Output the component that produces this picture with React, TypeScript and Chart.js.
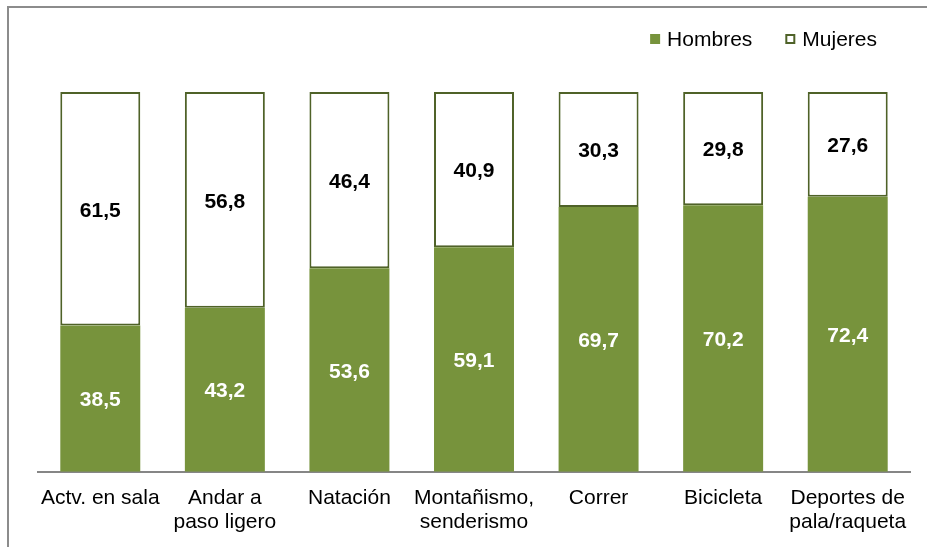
import React, { useEffect, useRef } from "react";
import { Chart, registerables } from "chart.js";

Chart.register(...registerables);

const categories: string[][] = [
  ["Actv. en sala"],
  ["Andar a", "paso ligero"],
  ["Natación"],
  ["Montañismo,", "senderismo"],
  ["Correr"],
  ["Bicicleta"],
  ["Deportes de", "pala/raqueta"],
];
const hombres: number[] = [38.5, 43.2, 53.6, 59.1, 69.7, 70.2, 72.4];
const mujeres: number[] = [61.5, 56.8, 46.4, 40.9, 30.3, 29.8, 27.6];

const FONT = "Arial, 'Liberation Sans', sans-serif";
const GREEN = "#77933C";
const DARK_GREEN = "#4F6228";

const labelPlugin = {
  id: "barLabels",
  afterDatasetsDraw(chart: any) {
    const ctx = chart.ctx;
    ctx.save();
    ctx.font = `bold 21px ${FONT}`;
    ctx.textAlign = "center";
    ctx.textBaseline = "middle";
    chart.data.datasets.forEach((ds: any, di: number) => {
      const meta = chart.getDatasetMeta(di);
      meta.data.forEach((bar: any, i: number) => {
        const v = ds.data[i] as number;
        const y = (bar.y + bar.base) / 2;
        ctx.fillStyle = di === 0 ? "#FFFFFF" : "#000000";
        ctx.fillText(v.toFixed(1).replace(".", ","), bar.x, y + 2);
      });
    });
    ctx.restore();
  },
};

const legendPlugin = {
  id: "customLegend",
  afterDraw(chart: any) {
    const ctx = chart.ctx;
    ctx.save();
    ctx.font = `21px ${FONT}`;
    ctx.textBaseline = "middle";
    ctx.textAlign = "left";
    const box = 10;
    const boxGap = 7;
    const itemGap = 33;
    const cy = 39;
    const items = chart.data.datasets.map((ds: any) => ({
      text: ds.label as string,
      fill: ds.backgroundColor as string,
      stroke: ds.borderColor as string,
      bw: ds.borderWidth as number,
      w: ctx.measureText(ds.label).width,
    }));
    const total = items.reduce((s: number, it: any) => s + box + boxGap + it.w, 0) + itemGap * (items.length - 1);
    let x = chart.chartArea.right - 33 - total;
    items.forEach((it: any) => {
      ctx.fillStyle = it.fill;
      ctx.fillRect(x, cy - box / 2, box, box);
      if (it.bw > 0) {
        ctx.strokeStyle = it.stroke;
        ctx.lineWidth = it.bw;
        ctx.strokeRect(x + it.bw / 2, cy - box / 2 + it.bw / 2, box - it.bw, box - it.bw);
      }
      ctx.fillStyle = "#000";
      ctx.fillText(it.text, x + box + boxGap, cy + 1);
      x += box + boxGap + it.w + itemGap;
    });
    ctx.restore();
  },
};

export default function App() {
  const ref = useRef<HTMLCanvasElement | null>(null);
  useEffect(() => {
    if (!ref.current) return;
    const chart = new Chart(ref.current, {
      type: "bar",
      data: {
        labels: categories,
        datasets: [
          {
            label: "Hombres",
            data: hombres,
            backgroundColor: GREEN,
            borderColor: GREEN,
            borderWidth: 0,
            categoryPercentage: 1,
            barPercentage: 0.642,
          },
          {
            label: "Mujeres",
            data: mujeres,
            backgroundColor: "#FFFFFF",
            borderColor: DARK_GREEN,
            borderWidth: 2,
            borderSkipped: false,
            categoryPercentage: 1,
            barPercentage: 0.642,
          },
        ],
      },
      options: {
        responsive: false,
        animation: false,
        devicePixelRatio: 1,
        layout: { padding: { left: 38, right: 17, top: 92, bottom: -1 } },
        plugins: {
          legend: { display: false },
          tooltip: { enabled: false },
        },
        scales: {
          x: {
            stacked: true,
            grid: { display: false, drawTicks: false },
            border: { display: true, color: "#868686", width: 2 },
            ticks: {
              color: "#000",
              font: { family: FONT, size: 21, lineHeight: 1.15 },
              padding: 14,
              maxRotation: 0,
              autoSkip: false,
            },
          },
          y: {
            stacked: true,
            display: false,
            min: 0,
            max: 100,
          },
        },
      },
      plugins: [labelPlugin, legendPlugin],
    });
    return () => chart.destroy();
  }, []);

  return (
    <div style={{ position: "fixed", left: 0, top: 0, width: 927, height: 547, background: "#fff", overflow: "hidden" }}>
      <div
        style={{
          position: "absolute",
          left: 7,
          top: 6,
          width: 960,
          height: 600,
          borderTop: "2px solid #8c8c8c",
          borderLeft: "2px solid #8c8c8c",
          boxSizing: "border-box",
        }}
      />
      <canvas ref={ref} width={927} height={547} style={{ position: "absolute", left: 0, top: 0, width: 927, height: 547 }} />
    </div>
  );
}
